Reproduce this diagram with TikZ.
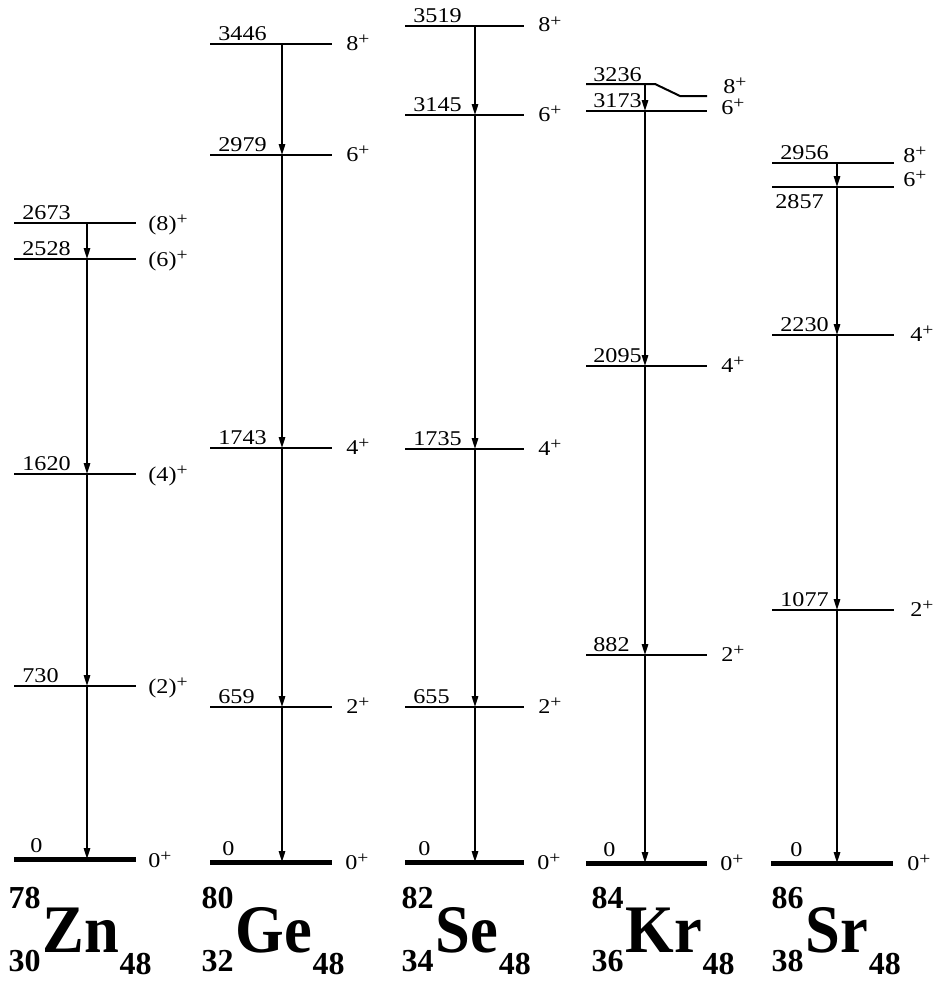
\documentclass[tikz,border=0pt]{standalone}
\usepackage{fontspec}
\setmainfont{Liberation Serif}
\newfontfamily\levelfont[FakeStretch=1.15]{Liberation Serif}
\newfontfamily\isofont[FakeStretch=0.92]{Liberation Serif}
\usetikzlibrary{arrows.meta,positioning}
\newcommand\parplus{\raisebox{0.55ex}{\fontsize{8.5}{9}\selectfont+}}
\tikzset{
  lvl/.style={line width=1pt},
  gnd/.style={line width=2.5pt},
  gam/.style={line width=0.9pt,-{Triangle[length=5.5pt,width=3.2pt]}},
  elab/.style={font=\levelfont\fontsize{10.5}{12}\selectfont,inner sep=0pt,anchor=base west},
  jlab/.style={font=\levelfont\fontsize{10.5}{12}\selectfont,inner sep=0pt,anchor=base west},
  isosym/.style={font=\isofont\bfseries\fontsize{34}{36}\selectfont,inner sep=0pt,anchor=base west},
  isonum/.style={font=\bfseries\fontsize{16}{18}\selectfont,inner sep=0pt},
}
\begin{document}
\begin{tikzpicture}[x=0.5pt,y=-0.5pt]
\useasboundingbox (0,0) rectangle (937,985);
% 78Zn
\foreach \k/\y/\e/\j in {8/223/2673/(8),6/259/2528/(6),4/474/1620/(4),2/686/730/(2)}{
  \coordinate (znL\k) at (14,\y);
  \coordinate (znR\k) at (136,\y);
  \coordinate (znG\k) at (87,\y);
  \draw[lvl] (znL\k) -- (znR\k);
  \node[elab] (znE\k) at (22,\y-4) {\e};
  \node[jlab] (znJ\k) at (148,\y+7) {\j\parplus};
}
\coordinate (znL0) at (14,859);
\coordinate (znR0) at (136,859);
\coordinate (znG0) at (87,859);
\draw[gnd] (znL0) -- (znR0);
\node[elab] (znE0) at (30,852) {0};
\node[jlab] (znJ0) at (148,867) {0\parplus};
\draw[gam] (znG8) -- (znG6);
\draw[gam] (znG6) -- (znG4);
\draw[gam] (znG4) -- (znG2);
\draw[gam] (znG2) -- (znG0);
% 80Ge
\foreach \k/\y/\e in {8/44/3446,6/155/2979,4/448/1743,2/707/659}{
  \coordinate (geL\k) at (210,\y);
  \coordinate (geR\k) at (332,\y);
  \coordinate (geG\k) at (282,\y);
  \draw[lvl] (geL\k) -- (geR\k);
  \node[elab] (geE\k) at (218,\y-4) {\e};
  \node[jlab] (geJ\k) at (346,\y+6) {\k\parplus};
}
\coordinate (geL0) at (210,862);
\coordinate (geR0) at (332,862);
\coordinate (geG0) at (282,862);
\draw[gnd] (geL0) -- (geR0);
\node[elab] (geE0) at (222,855) {0};
\node[jlab] (geJ0) at (345,869) {0\parplus};
\draw[gam] (geG8) -- (geG6);
\draw[gam] (geG6) -- (geG4);
\draw[gam] (geG4) -- (geG2);
\draw[gam] (geG2) -- (geG0);
% 82Se
\foreach \k/\y/\e in {8/26/3519,6/115/3145,4/449/1735,2/707/655}{
  \coordinate (seL\k) at (405,\y);
  \coordinate (seR\k) at (524,\y);
  \coordinate (seG\k) at (475,\y);
  \draw[lvl] (seL\k) -- (seR\k);
  \node[elab] (seE\k) at (413,\y-4) {\e};
  \node[jlab] (seJ\k) at (538,\y+6) {\k\parplus};
}
\coordinate (seL0) at (405,862);
\coordinate (seR0) at (524,862);
\coordinate (seG0) at (475,862);
\draw[gnd] (seL0) -- (seR0);
\node[elab] (seE0) at (418,855) {0};
\node[jlab] (seJ0) at (537,869) {0\parplus};
\draw[gam] (seG8) -- (seG6);
\draw[gam] (seG6) -- (seG4);
\draw[gam] (seG4) -- (seG2);
\draw[gam] (seG2) -- (seG0);
% 84Kr
\coordinate (krL8) at (586,84);
\coordinate (krK8) at (655,84);
\coordinate (krM8) at (680,96);
\coordinate (krR8) at (707,96);
\coordinate (krG8) at (645,84);
\draw[lvl] (krL8) -- (krK8) -- (krM8) -- (krR8);
\node[elab] (krE8) at (593,81) {3236};
\node[jlab] (krJ8) at (723,93) {8\parplus};
\foreach \k/\y/\e/\jy in {6/111/3173/114,4/366/2095/372,2/655/882/661}{
  \coordinate (krL\k) at (586,\y);
  \coordinate (krR\k) at (707,\y);
  \coordinate (krG\k) at (645,\y);
  \draw[lvl] (krL\k) -- (krR\k);
  \node[elab] (krE\k) at (593,\y-4) {\e};
  \node[jlab] (krJ\k) at (721,\jy) {\k\parplus};
}
\coordinate (krL0) at (586,863);
\coordinate (krR0) at (707,863);
\coordinate (krG0) at (645,863);
\draw[gnd] (krL0) -- (krR0);
\node[elab] (krE0) at (603,856) {0};
\node[jlab] (krJ0) at (720,870) {0\parplus};
\draw[gam] (krG8) -- (krG6);
\draw[gam] (krG6) -- (krG4);
\draw[gam] (krG4) -- (krG2);
\draw[gam] (krG2) -- (krG0);
% 86Sr
\foreach \k/\y/\jx/\jy in {8/163/903/162,6/187/903/186,4/335/910/341,2/610/910/616}{
  \coordinate (srL\k) at (772,\y);
  \coordinate (srR\k) at (894,\y);
  \coordinate (srG\k) at (837,\y);
  \draw[lvl] (srL\k) -- (srR\k);
  \node[jlab] (srJ\k) at (\jx,\jy) {\k\parplus};
}
\node[elab] (srE8) at (780,159) {2956};
\node[elab,anchor=north west] (srE6) at (775,194) {2857};
\node[elab] (srE4) at (780,331) {2230};
\node[elab] (srE2) at (780,606) {1077};
\coordinate (srL0) at (771,863);
\coordinate (srR0) at (893,863);
\coordinate (srG0) at (837,863);
\draw[gnd] (srL0) -- (srR0);
\node[elab] (srE0) at (790,856) {0};
\node[jlab] (srJ0) at (907,870) {0\parplus};
\draw[gam] (srG8) -- (srG6);
\draw[gam] (srG6) -- (srG4);
\draw[gam] (srG4) -- (srG2);
\draw[gam] (srG2) -- (srG0);
% isotope names
\foreach \s/\x/\A/\Z/\N in {Zn/42/78/30/48,Ge/235/80/32/48,Se/435/82/34/48,Kr/625/84/36/48,Sr/805/86/38/48}{
  \node[isosym] (el\s) at (\x,952) {\s};
  \node[isonum,anchor=base east] (elA\s) at ([shift={(-1,-44)}]el\s.base west) {\A};
  \node[isonum,anchor=base east] (elZ\s) at ([shift={(-1,19)}]el\s.base west) {\Z};
  \node[isonum,anchor=base west] (elN\s) at ([shift={(0,22)}]el\s.base east) {\N};
}
\end{tikzpicture}
\end{document}
